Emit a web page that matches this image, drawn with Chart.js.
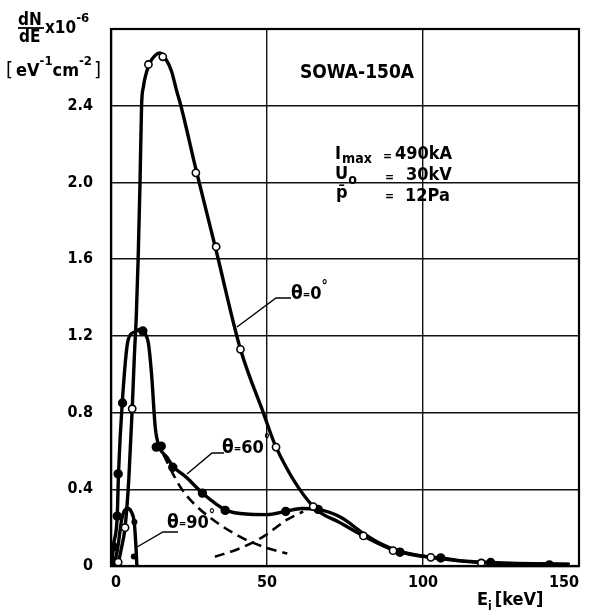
<!DOCTYPE html>
<html><head><meta charset="utf-8">
<script src="https://cdn.jsdelivr.net/npm/chart.js@4.4.0/dist/chart.umd.min.js"></script>
<style>html,body{margin:0;padding:0;background:#fff;} #wrap{position:relative;width:589px;height:611px;}</style>
</head><body><div id="wrap"><canvas id="c" width="589" height="611"></canvas></div>
<script>
// ---- data ----
const xTickValues = [0, 50, 100, 150];
const xTickLabels = ['0', '50', '100', '150'];
const yTickValues = [0, 0.4, 0.8, 1.2, 1.6, 2.0, 2.4];
const yTickLabels = ['0', '0.4', '0.8', '1.2', '1.6', '2.0', '2.4'];

// theta = 0 deg (open circles)
const theta0CurveE = [2.1, 2.4, 3.3, 4.5, 5.7, 6.8, 7.5, 8.1, 8.7, 9.3, 9.8, 10.4, 11.3, 12.5, 14, 15.7, 17.5, 19.4, 21, 22.4, 27.2, 33.7, 41.5, 48.8, 52.9, 64.8, 73.5, 80.9, 90.4, 102.5, 118.7, 135, 147];
const theta0CurveN = [0, 0.02, 0.09, 0.2, 0.45, 0.82, 1.1, 1.3, 1.6, 2.0, 2.4, 2.5, 2.57, 2.625, 2.66, 2.675, 2.645, 2.58, 2.48, 2.4, 2.07, 1.645, 1.13, 0.8, 0.62, 0.31, 0.225, 0.157, 0.085, 0.045, 0.018, 0.012, 0.01];
const theta0PtsE = [2.3, 4.5, 6.8, 12.0, 16.6, 27.2, 33.7, 41.5, 52.9, 64.8, 80.9, 90.4, 102.5, 118.7];
const theta0PtsN = [0.02, 0.2, 0.82, 2.615, 2.655, 2.05, 1.665, 1.13, 0.62, 0.31, 0.157, 0.08, 0.045, 0.016];

// theta = 60 deg (filled circles)
const theta60CurveE = [0.3, 0.75, 2.0, 2.4, 3.6, 5.5, 7.5, 9.5, 11, 12, 13, 14.2, 15.5, 17.8, 19.9, 24.3, 29.3, 37, 44.6, 50, 56, 61, 66.4, 73.5, 80.9, 86, 92.6, 99, 105.7, 112, 121.7, 130, 140.5, 147];
const theta60CurveN = [0, 0.1, 0.26, 0.48, 0.85, 1.18, 1.22, 1.235, 1.21, 1.16, 1.0, 0.72, 0.62, 0.57, 0.52, 0.46, 0.38, 0.29, 0.27, 0.268, 0.285, 0.30, 0.295, 0.255, 0.17, 0.12, 0.075, 0.052, 0.042, 0.028, 0.018, 0.012, 0.008, 0.008];
const theta60PtsE = [0.75, 2.0, 2.3, 3.7, 10.2, 14.5, 16.1, 19.8, 29.3, 36.6, 56.0, 66.4, 92.6, 105.7, 121.7, 140.5];
const theta60PtsN = [0.1, 0.26, 0.48, 0.85, 1.225, 0.62, 0.625, 0.515, 0.38, 0.29, 0.285, 0.295, 0.072, 0.042, 0.018, 0.006];

// theta = 90 deg
const theta90CurveE = [1.0, 2.2, 3.4, 4.2, 5.4, 6.6, 7.5, 8.0, 8.3];
const theta90CurveN = [0, 0.1, 0.24, 0.285, 0.30, 0.28, 0.22, 0.1, 0];
const theta90PtsE = [7.5, 7.3];
const theta90PtsN = [0.23, 0.05];

// dashed decomposition of theta = 60 deg
const dashLowE = [16.8, 22.1, 26.4, 32.8, 41.3, 48.8, 56.5];
const dashLowN = [0.58, 0.415, 0.328, 0.24, 0.153, 0.10, 0.065];
const dashHighE = [33.3, 41.3, 48.8, 56.3, 61.6];
const dashHighN = [0.048, 0.092, 0.153, 0.24, 0.284];

// ---- build ----
const pts = (xs, ys) => xs.map((x, i) => ({x: x, y: ys[i]}));
const lineDs = (label, xs, ys, extra) => Object.assign({
  label: label, data: pts(xs, ys), showLine: true, borderColor: '#000', borderWidth: 3.4,
  pointRadius: 0, fill: false, cubicInterpolationMode: 'monotone', order: 2
}, extra || {});
const markDs = (label, xs, ys, bg, r) => ({
  label: label, data: pts(xs, ys), showLine: false, pointRadius: r, pointBorderWidth: 1.6,
  pointBackgroundColor: bg, pointBorderColor: '#000', order: 0
});

const TF = "'DejaVu Sans Condensed', 'DejaVu Sans', sans-serif";
const AF = "'DejaVu Sans Condensed', 'DejaVu Sans', sans-serif";

const annot = {
  id: 'annot',
  afterDraw(chart) {
    const ctx = chart.ctx, a = chart.chartArea;
    ctx.save();
    ctx.strokeStyle = '#000'; ctx.lineWidth = 2.2;
    ctx.strokeRect(a.left, a.top, a.right - a.left, a.bottom - a.top);
    ctx.fillStyle = '#000'; ctx.textBaseline = 'alphabetic'; ctx.textAlign = 'left';
    const t = (s, x, y, size, w) => { ctx.font = (w || 'bold') + ' ' + size + 'px ' + AF; ctx.fillText(s, x, y); return x + ctx.measureText(s).width; };
    const line = (pp, w) => { ctx.lineWidth = w; ctx.beginPath(); ctx.moveTo(pp[0][0], pp[0][1]); for (let i = 1; i < pp.length; i++) ctx.lineTo(pp[i][0], pp[i][1]); ctx.stroke(); };

    // y-axis title
    t('dN', 18, 25, 17);
    line([[18, 28], [44, 28]], 1.8);
    t('dE', 19, 42, 17);
    let x = t('x10', 45, 33, 17);
    t('-6', x, 22, 13);
    x = t('[', 6, 76, 20, 'normal');
    x = t('eV', x + 3, 76, 18);
    x = t('-1', x, 65, 13);
    x = t('cm', x, 76, 18);
    x = t('-2', x, 65, 13);
    t(']', x + 2, 76, 20, 'normal');

    // x-axis title
    x = t('E', 477, 605, 18);
    x = t('i', x, 610, 12);
    t('[keV]', x + 3, 605, 18);

    // box texts
    t('SOWA-150A', 300, 78, 19);
    x = t('I', 335, 159, 18);
    t('max', x + 1, 163, 14);
    t('=', 383, 160, 12);
    t('490kA', 395, 159, 18);
    x = t('U', 335, 179, 18);
    t('o', x, 184, 14);
    t('=', 385, 181, 12);
    t('30kV', 406, 180, 18);
    t('p\u0304', 336, 198, 18);
    t('=', 385, 200, 12);
    t('12Pa', 405, 201, 18);

    // theta labels with leaders
    const lab = (lx, ly, num) => {
      let xx = t('\u03B8', lx, ly, 19);
      xx = t('=', xx, ly - 1, 10);
      xx = t(num, xx, ly, 18);
      t('\u00B0', xx, ly - 9, 14);
    };
    line([[237, 327], [276, 298], [291, 298]], 1.4);
    lab(291, 299, '0');
    line([[187, 474], [212, 453], [224, 453]], 1.4);
    lab(222, 453, '60');
    line([[137, 547], [163, 532], [178, 532]], 1.4);
    lab(167, 528, '90');
    ctx.restore();
  }
};

new Chart(document.getElementById('c'), {
  type: 'scatter',
  data: {
    datasets: [
      markDs('θ=0° points', theta0PtsE, theta0PtsN, '#fff', 3.6),
      markDs('θ=60° points', theta60PtsE, theta60PtsN, '#000', 3.9),
      markDs('θ=90° points', theta90PtsE, theta90PtsN, '#000', 2.2),
      lineDs('θ=0°', theta0CurveE, theta0CurveN),
      lineDs('θ=60°', theta60CurveE, theta60CurveN),
      lineDs('θ=90°', theta90CurveE, theta90CurveN),
      lineDs('θ=60° low-energy component', dashLowE, dashLowN, {borderDash: [10, 6], borderWidth: 2.6}),
      lineDs('θ=60° high-energy component', dashHighE, dashHighN, {borderDash: [10, 6], borderWidth: 2.6})
    ]
  },
  options: {
    responsive: false, animation: false, devicePixelRatio: 1,
    layout: {padding: {left: 0, right: 10, top: 29, bottom: 0}},
    plugins: {legend: {display: false}, tooltip: {enabled: false}},
    scales: {
      x: {
        type: 'linear', min: 0, max: 150,
        afterBuildTicks: s => { s.ticks = xTickValues.map(v => ({value: v})); },
        afterFit: s => { s.height = 45; s.paddingLeft = 0; s.paddingRight = 0; },
        ticks: {callback: (v) => xTickLabels[xTickValues.indexOf(v)], color: '#000', font: {family: TF, size: 16, weight: 'bold'}, padding: 7, maxRotation: 0, align: 'inner'},
        grid: {color: '#111', lineWidth: 1.4, drawTicks: false},
        border: {display: true, color: '#000', width: 2.2}
      },
      y: {
        type: 'linear', min: 0, max: 2.8,
        afterBuildTicks: s => { s.ticks = yTickValues.map(v => ({value: v})); },
        afterFit: s => { s.width = 111; s.paddingTop = 0; s.paddingBottom = 0; },
        ticks: {callback: (v) => yTickLabels[yTickValues.indexOf(v)], color: '#000', font: {family: TF, size: 16, weight: 'bold'}, padding: 18},
        grid: {color: '#111', lineWidth: 1.4, drawTicks: false},
        border: {display: true, color: '#000', width: 2.2}
      }
    }
  },
  plugins: [annot]
});
</script></body></html>
